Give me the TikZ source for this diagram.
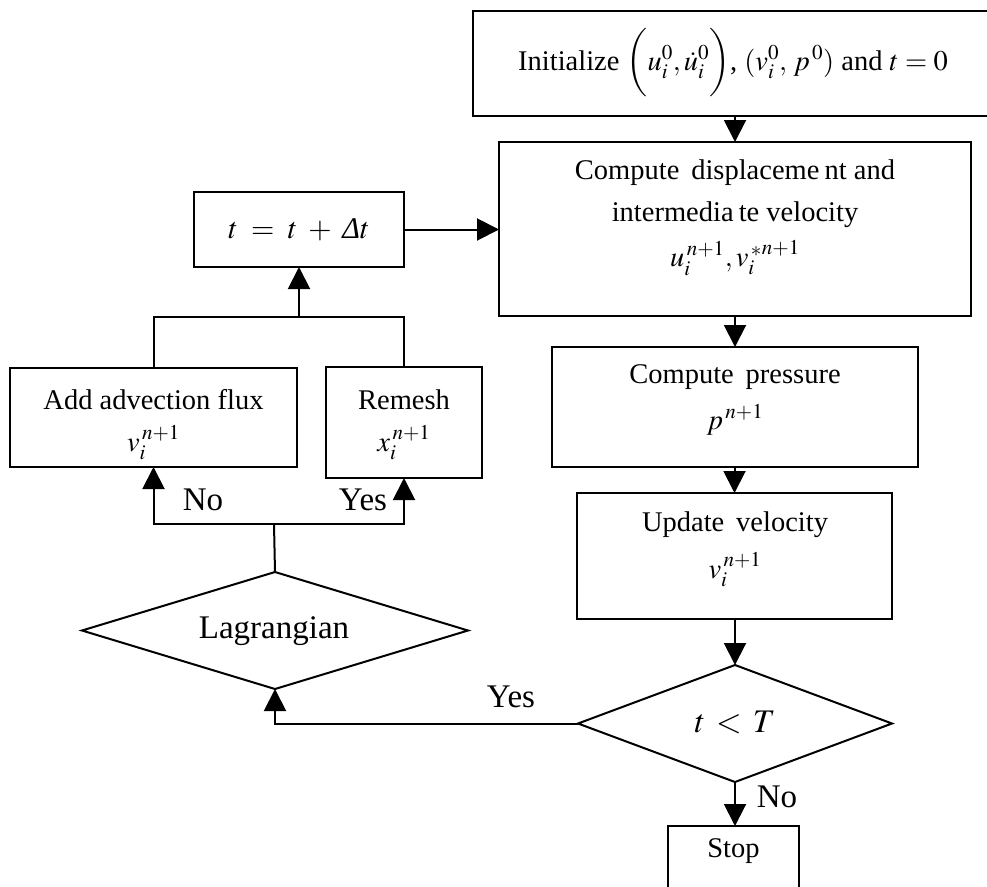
\documentclass[tikz,border=0pt]{standalone}
\usepackage{mathptmx}
\usepackage[no-math]{fontspec}
\setmainfont{Liberation Serif}
\usetikzlibrary{arrows.meta,shapes.geometric}
\begin{document}
\begin{tikzpicture}[x=1pt,y=-1pt,
  every node/.style={inner sep=0pt, outer sep=0pt},
  box/.style={draw, line width=2pt, rectangle},
  dia/.style={draw, line width=2pt, diamond},
  ln/.style={line width=2pt},
  arr/.style={line width=2pt, -{Triangle[width=22pt,length=22pt]}},
  tx/.style={font=\fontsize{28.5}{34}\selectfont},
  big/.style={font=\fontsize{33}{40}\selectfont},
]
\useasboundingbox (0,0) rectangle (987,886);
\clip (0,0) rectangle (987,886);

% boxes
\node[box, minimum width=522pt, minimum height=105pt] (init) at (734,63.5) {};
\node[tx] (inittxt) at (733,63) {Initialize $\biggl(u_i^{0}, \dot{u}_i^{0}\biggr)$, $(v_i^{0},\, p^{\,0})$ and $t=0$};

\node[box, minimum width=472pt, minimum height=174pt] (comp) at (735,229) {};
\node[tx] (comp1) at (735,173) {Compute\, displaceme\hspace{0.18em}nt and};
\node[tx] (comp2) at (735,215) {intermedia\hspace{0.18em}te velocity};
\node[tx] (comp3) at (735,258) {$u_i^{\,n+1}, {v_i^{\,*}}^{n+1}$};

\node[box, minimum width=366pt, minimum height=120pt] (press) at (735,407) {};
\node[tx] (press1) at (735,377) {Compute\, pressure};
\node[tx] (press2) at (735,420) {$p^{\,n+1}$};

\node[box, minimum width=315pt, minimum height=126pt] (update) at (734.5,556) {};
\node[tx] (upd1) at (735,525) {Update\, velocity};
\node[tx] (upd2) at (735,570) {$v_i^{\,n+1}$};

\node[dia, minimum width=314pt, minimum height=117pt] (tT) at (735,723.5) {};
\node[big] (tTtxt) at (735,722) {$t \,<\, T$};

\node[box, minimum width=131pt, minimum height=88pt] (stop) at (733.5,870) {};
\node[tx] (stoptxt) at (733.5,851) {Stop};

\node[dia, minimum width=386pt, minimum height=117pt] (lag) at (275,630.5) {};
\node[big] (lagtxt) at (274,631) {Lagrangian};

\node[box, minimum width=287pt, minimum height=99pt] (add) at (153.5,417.5) {};
\node[tx] (add1) at (153.5,400) {Add advection flux};
\node[tx] (add2) at (153.5,443) {$v_i^{\,n+1}$};

\node[box, minimum width=156pt, minimum height=111pt] (remesh) at (404,422.5) {};
\node[tx] (rem1) at (404,400) {Remesh};
\node[tx] (rem2) at (404,443) {$x_i^{\,n+1}$};

\node[box, minimum width=210pt, minimum height=75pt] (tbox) at (299,229.5) {};
\node[font=\fontsize{30}{36}\selectfont] (tboxtxt) at (299,230) {$t \;=\; t \;+\; \mbox{\itshape Δ}t$};

% coordinates
\coordinate (split) at (274,524);
\coordinate (mrg) at (299,317);

% connectors
\draw[arr] (comp.north |- init.south) -- (comp.north);
\draw[arr] (press.north |- comp.south) -- (press.north);
\draw[arr] (update.north |- press.south) -- (update.north);
\draw[arr] (tT.north |- update.south) -- (tT.north);
\draw[arr] (tT.south) -- (tT.south |- stop.north);
\draw[arr] (tT.west) -| (lag.south);
\draw[ln] (lag.north) -- (split);
\draw[arr] (split) -| (add.south);
\draw[arr] (split) -| (remesh.south);
\draw[ln] (add.north) |- (mrg);
\draw[ln] (remesh.north) |- (mrg);
\draw[arr] (mrg) -- (tbox.south);
\draw[arr] (tbox.east) -- (tbox.east -| comp.west);

% labels
\node[big] (lno) at (203,500) {No};
\node[big] (lyes) at (363,500) {Yes};
\node[big] (tyes) at (511,697) {Yes};
\node[big] (tno) at (777,797) {No};
\end{tikzpicture}
\end{document}
